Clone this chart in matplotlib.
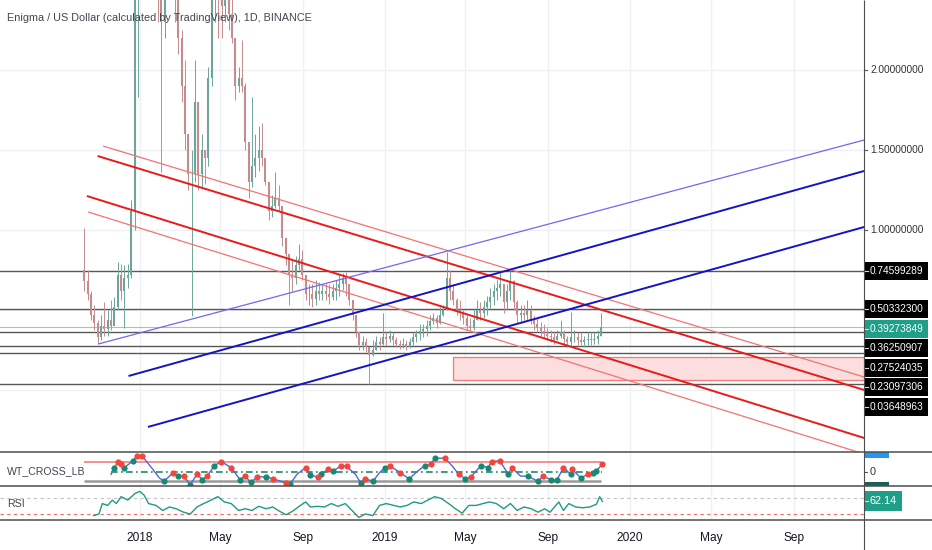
import matplotlib
matplotlib.use("Agg")
import matplotlib.pyplot as plt
import matplotlib.dates as mdates
from matplotlib.patches import Rectangle
import numpy as np
import pandas as pd

W, H, DPI = 932, 550, 100
plt.rcParams["font.family"] = ["Liberation Sans", "DejaVu Sans"]

title = "Enigma / US Dollar (calculated by TradingView), 1D, BINANCE"

# price candles, one every 5 days
candle_start = "2017-10-10"
candle_days = 5
first_open = 0.75
high = [1.01, 0.75, 0.62, 0.53, 0.44, 0.47, 0.55, 0.50, 0.56, 0.58,
        0.80, 0.79, 0.78, 0.79, 1.19, 2.90, 3.60, 4.40, 4.80, 4.60,
        4.00, 3.30, 3.00, 2.80, 3.20, 3.40, 3.20, 2.90, 2.60, 2.25,
        2.06, 1.56, 1.50, 2.06, 1.80, 1.60, 1.50, 2.02, 2.70, 2.90,
        2.80, 2.70, 2.70, 2.60, 2.50, 2.19, 2.02, 2.19, 1.92, 1.50,
        1.83, 1.60, 1.65, 1.67, 1.44, 1.27, 1.22, 1.36, 1.28, 1.14,
        0.94, 0.84, 0.81, 0.84, 0.91, 0.875, 0.72, 0.66, 0.66, 0.69,
        0.675, 0.66, 0.67, 0.66, 0.66, 0.69, 0.72, 0.73, 0.74, 0.66,
        0.56, 0.47, 0.36, 0.34, 0.325, 0.27, 0.31, 0.34, 0.33, 0.48,
        0.36, 0.375, 0.36, 0.33, 0.31, 0.325, 0.31, 0.325, 0.36, 0.375,
        0.41, 0.41, 0.44, 0.47, 0.48, 0.47, 0.52, 0.53, 0.86, 0.75,
        0.66, 0.575, 0.56, 0.50, 0.47, 0.45, 0.50, 0.56, 0.55, 0.56,
        0.59, 0.64, 0.66, 0.69, 0.73, 0.66, 0.66, 0.75, 0.69, 0.56,
        0.53, 0.53, 0.56, 0.53, 0.47, 0.45, 0.425, 0.41, 0.39, 0.375,
        0.36, 0.375, 0.44, 0.375, 0.34, 0.49, 0.375, 0.36, 0.36, 0.34,
        0.36, 0.36, 0.36, 0.375, 0.48]
low = [0.62, 0.56, 0.44, 0.375, 0.29, 0.31, 0.34, 0.34, 0.375, 0.42,
       0.50, 0.56, 0.39, 0.64, 0.70, 1.00, 1.83, 2.80, 3.30, 3.00,
       2.80, 2.50, 2.30, 1.36, 2.20, 2.60, 2.50, 2.30, 2.10, 1.80,
       1.50, 1.25, 0.46, 1.30, 1.25, 1.27, 1.29, 1.40, 1.90, 2.30,
       2.20, 2.20, 2.30, 2.25, 2.17, 1.81, 1.86, 1.86, 1.50, 1.20,
       1.27, 1.33, 1.37, 1.40, 1.28, 1.06, 1.08, 1.14, 1.12, 0.90,
       0.78, 0.53, 0.62, 0.66, 0.75, 0.69, 0.56, 0.53, 0.52, 0.53,
       0.56, 0.56, 0.56, 0.54, 0.56, 0.56, 0.59, 0.625, 0.59, 0.53,
       0.44, 0.33, 0.25, 0.25, 0.24, 0.04, 0.21, 0.25, 0.25, 0.28,
       0.28, 0.30, 0.28, 0.27, 0.255, 0.26, 0.25, 0.26, 0.28, 0.30,
       0.31, 0.33, 0.34, 0.375, 0.41, 0.39, 0.41, 0.46, 0.50, 0.56,
       0.53, 0.47, 0.44, 0.41, 0.375, 0.36, 0.375, 0.44, 0.44, 0.45,
       0.47, 0.50, 0.53, 0.56, 0.59, 0.48, 0.50, 0.56, 0.50, 0.42,
       0.425, 0.44, 0.44, 0.41, 0.375, 0.36, 0.34, 0.325, 0.31, 0.30,
       0.29, 0.31, 0.325, 0.29, 0.27, 0.28, 0.30, 0.28, 0.275, 0.27,
       0.28, 0.28, 0.29, 0.29, 0.34]
close = [0.68, 0.60, 0.47, 0.42, 0.33, 0.40, 0.38, 0.44, 0.40, 0.52,
         0.72, 0.62, 0.70, 0.72, 1.12, 2.60, 3.20, 3.90, 4.20, 3.60,
         3.00, 2.70, 2.60, 2.30, 2.90, 3.00, 2.80, 2.50, 2.20, 1.90,
         1.60, 1.35, 1.35, 1.80, 1.35, 1.50, 1.45, 1.95, 2.50, 2.60,
         2.50, 2.40, 2.55, 2.35, 2.20, 1.90, 1.95, 1.90, 1.55, 1.30,
         1.40, 1.45, 1.50, 1.45, 1.30, 1.12, 1.15, 1.20, 1.15, 0.95,
         0.85, 0.72, 0.70, 0.78, 0.82, 0.72, 0.60, 0.60, 0.57, 0.62,
         0.60, 0.62, 0.60, 0.58, 0.62, 0.64, 0.66, 0.70, 0.66, 0.56,
         0.47, 0.36, 0.28, 0.30, 0.27, 0.22, 0.25, 0.30, 0.29, 0.33,
         0.32, 0.34, 0.31, 0.29, 0.28, 0.29, 0.27, 0.30, 0.33, 0.35,
         0.37, 0.38, 0.40, 0.43, 0.45, 0.42, 0.47, 0.50, 0.70, 0.62,
         0.56, 0.50, 0.48, 0.45, 0.40, 0.39, 0.44, 0.50, 0.48, 0.52,
         0.55, 0.58, 0.62, 0.64, 0.66, 0.55, 0.62, 0.68, 0.55, 0.47,
         0.48, 0.47, 0.50, 0.44, 0.41, 0.39, 0.37, 0.35, 0.34, 0.33,
         0.31, 0.34, 0.36, 0.32, 0.30, 0.33, 0.33, 0.31, 0.30, 0.31,
         0.32, 0.31, 0.32, 0.34, 0.39273849]

levels = [0.74599289, 0.50332300, 0.36250907, 0.27524035, 0.23097306, 0.03648963]
last_price = 0.39273849

# drawn trend lines: (start, end) dates and (start, end) prices
red_thick = [(("2017-10-30", "2020-12-15"), (1.4625, 0.0)),
             (("2017-10-14", "2020-12-15"), (1.2125, -0.30))]
red_thin = [(("2017-11-07", "2020-12-15"), (1.525, 0.081)),
            (("2017-10-16", "2020-12-15"), (1.1125, -0.40))]
blue_thick = [(("2017-12-15", "2020-12-15"), (0.0875, 1.369)),
              (("2018-01-13", "2020-12-15"), (-0.231, 1.019))]
blue_thin = [(("2017-10-31", "2020-12-15"), (0.2875, 1.5625))]
zone_dates = ("2019-04-12", "2020-12-15")
zone_prices = (0.0625, 0.206)

# WT_CROSS_LB, days after 2018-01-01
anchor = "2018-01-01"
wt_day = [-43, -38, -33, -28, -23, -10, -5, 3, 11, 21, 29, 36, 44, 49, 57, 65,
          75, 85, 93, 100, 111, 121, 136, 149, 157, 165, 175, 188, 198, 218,
          224, 234, 247, 254, 265, 270, 280, 288, 300, 308, 321, 329, 336, 347,
          357, 365, 372, 388, 401, 411, 424, 434, 439, 454, 465, 475, 485, 493,
          508, 519, 524, 536, 549, 554, 567, 578, 593, 601, 613, 621, 631, 642,
          644, 657, 667, 675, 680, 689]
wt_val = [-14, 24, 53, 43, 24, 62, 87, 87, 53, 5, -34, -53, -24, -5, -24, -24,
          -72, -14, -43, -24, 34, 57, 24, -43, -24, -59, -28, -28, -39, -62,
          -66, -14, 24, -20, -28, -14, 14, 5, 34, 30, -14, -62, -39, -53,
          -5, 24, 34, -5, -39, -5, 34, 43, 76, 76, 34, -14, -39, -28,
          34, 24, 57, 62, -14, 24, -24, -24, -53, -24, -47, -47, 24, -14,
          14, -34, -14, -5, 5, 43]
# cross dot per point: g = green, r = red, - = none
wt_dot = ("-grrggrr--" "-g-rgrgrgr" "grrgrgrgrr" "g-rgrgrgrr"
          "-grg-grrg-" "grgr-rgrgg" "rrgr-ggrgg" "rgrgrggr")
wt_ob, wt_os = 53, -53

# RSI, days after 2018-01-01
rsi_day = [-69, -61, -56, -48, -41, -35, -28, -18, -7, 0, 6, 13, 24, 34, 44, 54,
           65, 75, 85, 95, 106, 116, 126, 136, 147, 157, 167, 177, 188, 198,
           208, 218, 229, 239, 247, 254, 265, 275, 285, 295, 306, 316, 326, 336,
           347, 357, 367, 378, 388, 398, 408, 419, 429, 439, 449, 460, 470, 480,
           490, 501, 511, 521, 531, 542, 552, 562, 572, 583, 593, 603, 611, 624,
           631, 639, 649, 660, 670, 680, 685, 689]
rsi_val = [25.7, 30, 56.8, 52, 65.7, 57, 74.6, 65.7, 83.4, 88, 79, 56.8, 52, 39,
           48, 43.5, 34.6, 30, 48, 56.8, 65.7, 74.6, 61, 56.8, 39, 43.5, 39, 49.7,
           43.5, 48, 37, 28, 39, 52, 61, 48, 49.7, 48, 56.8, 49.7, 56.8, 39, 21,
           30, 25.7, 52, 56.8, 52, 48, 52, 61, 56.8, 65.7, 74.6, 70, 56.8, 43.5,
           32, 52, 52, 56.8, 61, 56.8, 43.5, 56.8, 39, 48, 43.5, 34.6, 43.5, 34.6,
           61, 39, 56.8, 48, 46, 48, 55, 74.6, 62.14]

x_ticks = ["2018-01-01", "2018-05-01", "2018-09-01", "2019-01-01", "2019-05-01",
           "2019-09-01", "2020-01-01", "2020-05-01", "2020-09-01"]
x_labels = ["2018", "May", "Sep", "2019", "May", "Sep", "2020", "May", "Sep"]
view = ("2017-06-06 14:00", "2020-12-14 17:00")

PRICE_LIM = (-0.3875, 2.4375)
WT_LIM = (-79, 110.5)
RSI_LIM = (14.5, 102)

GRID = "#eef0f4"
TXT = "#434651"
SEP = "#4d4d4d"
UP, DOWN = "#6fa598", "#c48c8c"
FS = 7.3


def d2n(s):
    return mdates.date2num(pd.to_datetime(s))


def rel(days):
    return mdates.date2num(pd.to_datetime(anchor) + pd.to_timedelta(days, unit="D"))


def box(x0, y0, x1, y1):
    return [x0 / W, 1 - y1 / H, (x1 - x0) / W, (y1 - y0) / H]


fig = plt.figure(figsize=(W / DPI, H / DPI), dpi=DPI)
R = 864
ax = fig.add_axes(box(0, 0, R, 452))
ax_wt = fig.add_axes(box(0, 452, R, 486), sharex=ax)
ax_rsi = fig.add_axes(box(0, 486, R, 520), sharex=ax)
sc = fig.add_axes(box(R, 0, W, 452))
sc_wt = fig.add_axes(box(R, 452, W, 486))
sc_rsi = fig.add_axes(box(R, 486, W, 520))

for a in (ax, ax_wt, ax_rsi, sc, sc_wt, sc_rsi):
    for s in a.spines.values():
        s.set_visible(False)
    a.tick_params(length=0, labelleft=False, labelbottom=False)
    a.set_axisbelow(True)
for a, lim in ((sc, PRICE_LIM), (sc_wt, WT_LIM), (sc_rsi, RSI_LIM)):
    a.set_xlim(0, W - R)
    a.set_ylim(*lim)
    a.set_xticks([])
    a.set_yticks([])

ax.set_xlim(d2n(view[0]), d2n(view[1]))
ax.set_xticks([d2n(t) for t in x_ticks])
ax.set_ylim(*PRICE_LIM)
ax.set_yticks(np.arange(0, 2.01, 0.5))
ax.grid(True, color=GRID, lw=1)
ax_wt.set_ylim(*WT_LIM)
ax_wt.set_yticks([])
ax_wt.grid(True, axis="x", color=GRID, lw=1)
ax_rsi.set_ylim(*RSI_LIM)
ax_rsi.set_yticks([])
ax_rsi.grid(True, axis="x", color=GRID, lw=1)
ax_rsi.set_xticklabels(x_labels)
ax_rsi.tick_params(axis="x", labelbottom=True, pad=8.5, labelsize=8.6, labelcolor="#131722")

# levels
for v in levels:
    ax.axhline(v, color="#575757", lw=1.0, zorder=2)
ax.axhline(last_price, color="#86d3c5", lw=0.8, zorder=2)

# zone
z0, z1 = d2n(zone_dates[0]), d2n(zone_dates[1])
ax.add_patch(Rectangle((z0, zone_prices[0]), z1 - z0, zone_prices[1] - zone_prices[0],
                       facecolor="#fcdede", edgecolor="#f07a7a", lw=0.9, zorder=2.5))

# candles
t = mdates.date2num(pd.date_range(candle_start, periods=len(close), freq=f"{candle_days}D"))
c = np.array(close)
o = np.r_[first_open, c[:-1]]
col = np.where(c >= o, UP, DOWN)
ax.vlines(t, low, high, colors=col, lw=0.7, zorder=3)
ax.vlines(t, np.minimum(o, c), np.maximum(o, c), colors=col, lw=1.5, zorder=3)

# trend lines
for group, color, lw in ((red_thin, "#f27373", 0.9), (red_thick, "#ea1a1a", 1.4),
                         (blue_thin, "#7466f2", 0.9), (blue_thick, "#1414c4", 1.4)):
    for (d0, d1), (p0, p1) in group:
        ax.plot([d2n(d0), d2n(d1)], [p0, p1], color=color, lw=lw, zorder=4,
                solid_capstyle="butt")

# price scale
for v in (1.0, 1.5, 2.0):
    sc.plot([0, 3], [v, v], color="#555", lw=0.8)
    sc.text(6, v, "%.8f" % v, va="center", ha="left", fontsize=FS, color="#333")

ppu = 452 / (PRICE_LIM[1] - PRICE_LIM[0])
gap, hb = 19.5 / ppu, 18 / ppu
pos = []
for v in sorted(levels + [last_price], reverse=True):
    p = v if not pos else min(v, pos[-1] - gap)
    pos.append(p)
    fc = "#1f9e88" if v == last_price else "#000000"
    sc.add_patch(Rectangle((0.5, p - hb / 2), 63.5, hb, facecolor=fc, edgecolor="none"))
    sc.plot([1, 3.5], [p, p], color="#dddddd", lw=0.8)
    sc.text(6, p, "%.8f" % v, va="center", ha="left", fontsize=FS, color="white")

# WT panel
wx = rel(np.array(wt_day))
wv = np.array(wt_val)
ax_wt.hlines(wt_ob, t[0], t[-1], color="#ee8080", lw=1.2, zorder=2)
ax_wt.hlines(wt_os, t[0], t[-1], color="#9a9a9a", lw=1.8, zorder=2)
ax_wt.hlines(0, wx[0], wx[-1], color="#1f8a66", lw=1.2, linestyles=[(0, (4, 2, 1, 2))], zorder=2)
ax_wt.plot(wx, wv, color="#5565d8", lw=1.0, zorder=3)
marks = np.array(list(wt_dot))
for key, fc in (("g", "#17896e"), ("r", "#f2453b")):
    m = marks == key
    ax_wt.scatter(wx[m], wv[m], s=20, color=fc, zorder=4, linewidths=0)

wppu = 34 / (WT_LIM[1] - WT_LIM[0])
sc_wt.plot([0, 3], [0, 0], color="#555", lw=0.8)
sc_wt.text(6, 0, "0", va="center", ha="left", fontsize=FS + 0.5, color="#333")
sc_wt.add_patch(Rectangle((0.5, 127 - 9 / wppu), 24, 18 / wppu, facecolor="#2196f3", edgecolor="none"))
sc_wt.text(12, 127, "40", va="center", ha="center", fontsize=FS, color="white", clip_on=True)
sc_wt.add_patch(Rectangle((0.5, -107 - 9 / wppu), 24, 18 / wppu, facecolor="#1b5f55", edgecolor="none"))
sc_wt.text(12, -107, "-44", va="center", ha="center", fontsize=FS, color="white", clip_on=True)

# RSI panel
ax_rsi.axhline(70, color="#c4c4c4", lw=0.8, ls=(0, (3, 3)))
ax_rsi.axhline(30, color="#ef6b6b", lw=0.8, ls=(0, (3, 3)))
ax_rsi.plot(rel(np.array(rsi_day)), rsi_val, color="#1f9b80", lw=1.0, zorder=3)
rppu = 34 / (RSI_LIM[1] - RSI_LIM[0])
rv = rsi_val[-1]
sc_rsi.add_patch(Rectangle((0.5, rv - 10 / rppu), 37, 20 / rppu, facecolor="#1f9e88", edgecolor="none"))
sc_rsi.plot([1, 3.5], [rv, rv], color="#dddddd", lw=0.8)
sc_rsi.text(6, rv, "%.2f" % rv, va="center", ha="left", fontsize=FS + 0.5, color="white")

# overlay: separators and captions
ov = fig.add_axes([0, 0, 1, 1], zorder=20)
ov.set_xlim(0, W)
ov.set_ylim(H, 0)
ov.axis("off")
ov.patch.set_alpha(0)
ov.hlines([452, 486, 520], 0, W, color=SEP, lw=1.1)
ov.vlines(R, 0, H, color=SEP, lw=0.8)
ov.text(7, 18, title, va="center", ha="left", fontsize=7.8, color=TXT)
ov.text(7, 471, "WT_CROSS_LB", va="center", ha="left", fontsize=7.6, color=TXT)
ov.text(7, 504, "RSI", va="center", ha="left", fontsize=7.6, color=TXT)

fig.savefig("out.png", dpi=DPI, facecolor="white")
